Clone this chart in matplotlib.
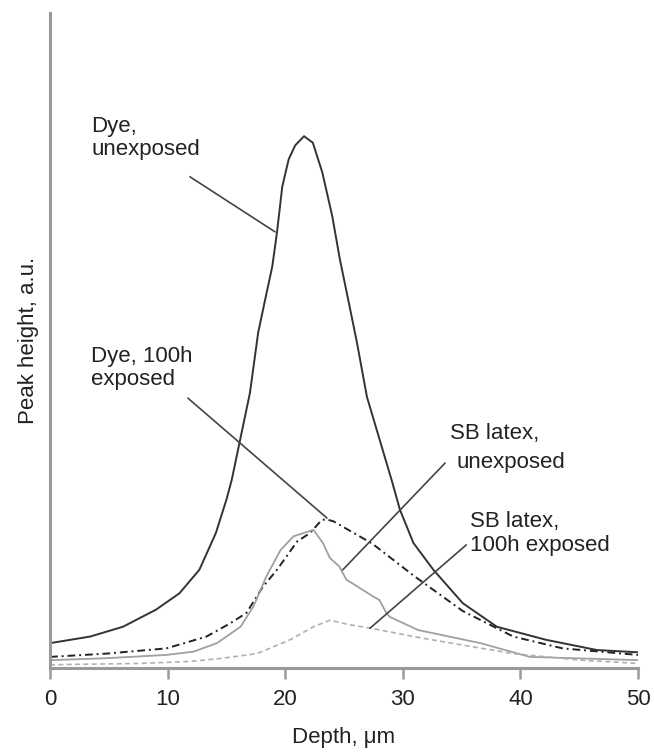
import matplotlib
matplotlib.use("Agg")
import matplotlib.pyplot as plt

plt.rcParams["font.family"] = ["Liberation Sans", "DejaVu Sans"]

# depth (um) / peak height (a.u.)
dye_unexp_x = [0.0, 3.4, 6.2, 9.0, 11.0, 12.7, 14.1, 15.0, 15.45, 17.0, 17.7, 18.3,
               18.9, 19.3, 19.75, 20.3, 20.85, 21.6, 22.35, 23.15, 24.0,
               24.65, 25.35, 26.1, 26.95, 29.05, 29.75, 30.9, 32.6, 35.1, 38.0,
               42.2, 46.5, 50.0]
dye_unexp_y = [3.8, 4.8, 6.3, 8.9, 11.4, 15.0, 20.6, 25.7, 28.7, 42.0, 51.2, 56.3,
               61.3, 66.5, 73.5, 77.7, 79.8, 81.2, 80.2, 75.7, 69.0,
               62.4, 56.3, 49.7, 41.4, 28.7, 24.2, 19.1, 15.0, 9.9, 6.3,
               4.3, 2.75, 2.4]

dye_exp_x = [0.0, 4.8, 9.9, 13.3, 15.3, 16.7, 18.1, 19.3, 20.1, 21.0, 22.1, 23.1,
             23.5, 24.1, 27.4, 31.0, 35.1, 39.4, 43.6, 50.0]
dye_exp_y = [1.7, 2.2, 3.0, 4.8, 6.8, 8.4, 12.4, 15.0, 17.0, 19.3, 20.6, 22.6,
             22.7, 22.4, 19.0, 14.0, 8.7, 4.8, 3.0, 2.0]

sb_unexp_x = [0.0, 4.8, 9.9, 12.2, 14.2, 16.2, 17.3, 18.4, 19.6, 20.7, 22.4, 23.2,
              23.8, 24.6, 25.2, 27.5, 28.0, 28.6, 28.9, 31.3, 36.6, 40.8, 50.0]
sb_unexp_y = [1.2, 1.5, 2.0, 2.5, 3.8, 6.3, 9.4, 14.0, 18.0, 20.1, 21.1, 19.1,
              16.8, 15.5, 13.5, 10.9, 10.4, 8.4, 7.8, 5.8, 3.8, 1.7, 1.2]

sb_exp_x = [0.0, 7.6, 11.9, 14.7, 17.6, 20.4, 22.4, 23.8, 25.5, 27.2, 29.5, 30.9,
            35.1, 39.4, 45.1, 50.0]
sb_exp_y = [0.5, 0.7, 1.0, 1.5, 2.2, 4.3, 6.3, 7.3, 6.6, 6.1, 5.3, 4.8,
            3.5, 2.2, 1.2, 0.7]

x_ticks = [0, 10, 20, 30, 40, 50]

fig = plt.figure(figsize=(6.54, 7.55), dpi=100)
ax = fig.add_axes([0.0765, 0.1152, 0.899, 0.8675])

ax.plot(dye_unexp_x, dye_unexp_y, color="#333333", lw=1.4)
ax.plot(dye_exp_x, dye_exp_y, color="#222222", lw=1.4, ls=(0, (4, 2, 1, 2)))
ax.plot(sb_unexp_x, sb_unexp_y, color="#a0a0a0", lw=1.3)
ax.plot(sb_exp_x, sb_exp_y, color="#b0b0b0", lw=1.2, ls=(0, (3, 2)))

ax.set_xlim(0, 50)
ax.set_ylim(0, 100)
ax.set_xticks(x_ticks)
ax.set_yticks([])

for side in ("top", "right"):
    ax.spines[side].set_visible(False)
for side in ("left", "bottom"):
    ax.spines[side].set_color("#9a9a9a")
    ax.spines[side].set_linewidth(2.2)
ax.tick_params(axis="x", direction="out", length=8, width=1.8, color="#9a9a9a",
               labelsize=16, labelcolor="#222222", pad=7)

ax.set_xlabel("Depth, \u03bcm", fontsize=16, color="#222222", labelpad=12)
ax.set_ylabel("Peak height, a.u.", fontsize=16, color="#222222", labelpad=8)

txt = dict(fontsize=16, color="#222222", linespacing=1.15)
leader = dict(arrowstyle="-", color="#444444", lw=1.2, shrinkA=0, shrinkB=0)

# leader lines: (start, end) in data units
ax.annotate("", xy=(19.13, 66.6), xytext=(11.9, 75.0), arrowprops=leader)
ax.annotate("", xy=(23.55, 22.9), xytext=(11.73, 41.2), arrowprops=leader)
ax.annotate("", xy=(24.9, 15.0), xytext=(33.6, 31.3), arrowprops=leader)
ax.annotate("", xy=(27.2, 6.06), xytext=(35.4, 18.8), arrowprops=leader)

ax.text(3.5, 84.3, "Dye,\nunexposed", ha="left", va="top", **txt)
ax.text(3.5, 49.2, "Dye, 100h\nexposed", ha="left", va="top", **txt)
ax.text(34.0, 37.4, "SB latex,", ha="left", va="top", **txt)
ax.text(34.6, 33.0, "unexposed", ha="left", va="top", **txt)
ax.text(35.7, 23.9, "SB latex,\n100h exposed", ha="left", va="top", **txt)

fig.savefig("out.png", dpi=100)
